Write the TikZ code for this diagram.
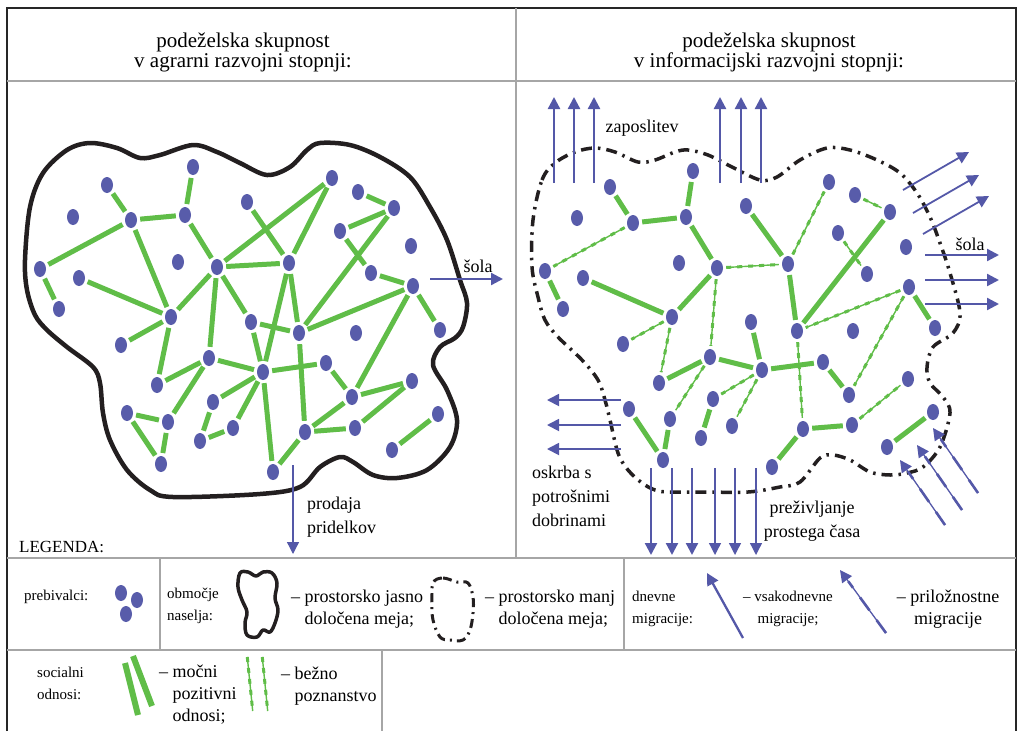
\documentclass[tikz,border=0pt]{standalone}
\usepackage{fontspec}
\setmainfont{Liberation Serif}
\usetikzlibrary{arrows.meta, shapes.geometric}

\definecolor{dotblue}{RGB}{88,92,170}
\definecolor{migblue}{RGB}{84,88,168}
\definecolor{relgreen}{RGB}{96,189,72}
\definecolor{blobblack}{RGB}{35,31,32}

\begin{document}
\begin{tikzpicture}[x=1pt, y=-1pt,
  dot/.style={ellipse, fill=dotblue, inner sep=0pt, minimum width=12pt, minimum height=16pt},
  strong/.style={relgreen, line width=5pt, shorten <=3pt, shorten >=3pt},
  casual/.style={relgreen, line width=1.4pt, shorten <=3pt, shorten >=3pt,
    postaction={draw, line width=3pt, dash pattern=on 5pt off 6pt}},
  daily/.style={migblue, line width=2.3pt, -{Triangle[length=12pt, width=12pt]}},
  occasional/.style={migblue, line width=1.3pt, -{Triangle[length=12pt, width=12pt]},
    postaction={draw, -, line width=2.6pt, shorten >=14pt, dash pattern=on 16pt off 12pt}},
  border/.style={line width=4.5pt, line join=round, blobblack},
  looseborder/.style={line width=3.5pt, blobblack, dash pattern=on 11pt off 6pt on 2.5pt off 6pt},
  frame/.style={line width=1.2pt, gray!70},
  headline/.style={align=center, font=\fontsize{21}{20}\selectfont},
  lbl/.style={align=left, inner sep=0pt, font=\fontsize{18}{24}\selectfont},
  keyword/.style={align=left, inner sep=0pt, font=\fontsize{15}{22}\selectfont},
  keytext/.style={align=left, inner sep=0pt, font=\fontsize{18}{22}\selectfont}]
\useasboundingbox (0,0) rectangle (1019,731);

% Frame
\draw[line width=1.5pt, black!85] (7,731) -- (7,8) -- (1016,8) -- (1016,731);
\draw[frame] (7,81) -- (1016,81);
\draw[frame] (516,8) -- (516,558);
\draw[frame] (7,558) -- (1016,558);
\draw[frame] (7,650) -- (1016,650);
\draw[frame] (160,558) -- (160,650);
\draw[frame] (624,558) -- (624,650);
\draw[frame] (382,650) -- (382,731);

% Headings
\node[headline] (agrtitle) at (243,52) {podeželska skupnost\\v agrarni razvojni stopnji:};
\node[headline] (infotitle) at (769,52) {podeželska skupnost\\v informacijski razvojni stopnji:};

% Agrarian settlement border
\draw[border] plot[smooth cycle, tension=0.55] coordinates {
  (30,207) (43,173) (67,150) (90,143) (117,148) (140,158) (160,155) (193,145)
  (217,152) (240,163) (267,175) (290,167) (307,150) (320,143) (350,145) (380,157)
  (410,177) (430,207) (447,240) (460,280) (467,303) (463,327) (455,338) (440,347)
  (433,365) (447,390) (457,420) (450,447) (427,470) (397,478) (373,475) (353,462)
  (340,457) (320,467) (300,487) (260,494) (173,497) (150,490) (127,470) (110,440)
  (103,413) (100,383) (93,367) (67,347) (47,330) (35,315) (27,290) (25,260)};

% Information settlement border
\draw[looseborder] plot[smooth cycle, tension=0.55] coordinates {
  (533,220) (542,180) (555,163) (575,152) (595,148) (615,152) (638,162) (655,160)
  (675,152) (688,150) (708,155) (732,167) (760,180) (777,177) (800,160) (827,148)
  (850,150) (877,160) (900,173) (917,193) (930,217) (940,243) (950,273) (960,313)
  (953,333) (933,347) (927,367) (930,383) (943,397) (950,413) (940,447) (923,467)
  (907,473) (890,475) (870,472) (850,460) (833,455) (820,458) (800,482) (780,487)
  (748,492) (702,492) (668,492) (655,490) (642,483) (628,470) (618,453) (610,420)
  (605,400) (598,380) (582,360) (558,337) (545,320) (538,297) (532,267)};

% Inhabitants, agrarian
\foreach \n/\x/\y in {L1/107/185, L2/193/167, L3/73/217, L4/131/220, L5/185/215,
  L6/247/202, L7/178/262, L8/217/267, L9/40/269, L10/79/278, L11/59/309,
  L12/171/317, L13/251/322, L14/332/178, L15/358/192, L16/394/208, L17/340/231,
  L18/411/246, L19/289/263, L20/371/273, L21/413/286, L22/299/333, L23/440/330,
  L24/356/333, L25/121/345, L26/209/358, L27/263/372, L28/326/363, L29/157/385,
  L30/213/402, L31/352/397, L32/412/381, L33/127/413, L34/168/422, L35/233/428,
  L36/200/441, L37/305/432, L38/355/428, L39/438/414, L40/161/464, L41/392/450,
  L42/273/472}
  \node[dot] (\n) at (\x,\y) {};

\foreach \a/\b in {L1/L4, L2/L5, L4/L5, L4/L9, L9/L11, L4/L12, L10/L12, L5/L8,
  L8/L12, L8/L14, L14/L19, L6/L19, L8/L19, L8/L26, L8/L13, L12/L25, L12/L29,
  L15/L16, L16/L17, L16/L22, L17/L20, L20/L21, L21/L22, L21/L23, L21/L31,
  L19/L22, L19/L27, L13/L22, L13/L27, L22/L37, L27/L28, L28/L31, L31/L32,
  L31/L37, L37/L38, L38/L32, L39/L41, L37/L42, L27/L42, L26/L27, L30/L27,
  L35/L27, L26/L29, L26/L34, L33/L34, L33/L40, L34/L40, L30/L36, L36/L35}
  \draw[strong] (\a) -- (\b);

% Inhabitants, information age
\foreach \n/\x/\y in {R1/693/171, R2/610/187, R3/577/218, R4/633/223, R5/686/217,
  R6/746/206, R7/679/263, R8/717/268, R9/545/271, R10/583/278, R11/563/309,
  R12/829/182, R13/855/195, R14/890/212, R15/838/233, R16/906/247, R17/788/264,
  R18/867/274, R19/909/287, R20/797/331, R21/853/331, R22/935/328, R23/672/317,
  R24/751/322, R25/623/344, R26/710/357, R27/762/370, R28/659/383, R29/713/399,
  R30/629/409, R31/670/419, R32/732/426, R33/701/438, R34/663/460, R35/772/467,
  R36/823/362, R37/849/395, R38/908/379, R39/803/429, R40/852/425, R41/933/412,
  R42/887/447}
  \node[dot] (\n) at (\x,\y) {};

\foreach \a/\b in {R1/R5, R2/R4, R4/R5, R9/R11, R10/R23, R5/R8, R8/R23, R6/R17,
  R14/R20, R17/R20, R19/R22, R28/R26, R26/R27, R24/R27, R29/R33, R30/R34,
  R31/R34, R27/R36, R36/R37, R39/R40, R39/R35, R42/R41}
  \draw[strong] (\a) -- (\b);

\foreach \a/\b in {R4/R9, R8/R17, R8/R26, R17/R12, R13/R14, R15/R18, R19/R20,
  R19/R37, R20/R39, R23/R25, R23/R28, R26/R31, R27/R29, R27/R32, R40/R38}
  \draw[casual] (\a) -- (\b);

% Migrations, agrarian
\coordinate (schoolA) at (430,279);
\coordinate (schoolB) at (503,279);
\draw[daily] (schoolA) -- (schoolB);
\node[lbl] (schooltxt) at (478,266) {šola};
\coordinate (sellA) at (293,465);
\coordinate (sellB) at (293,554);
\draw[occasional] (sellA) -- (sellB);
\node[lbl, anchor=west] (selltxt) at (307,517) {prodaja\\pridelkov};

% Migrations, information age
\foreach \x [count=\i] in {554,574,594,720,741,761} {
  \coordinate (jobA\i) at (\x,183);
  \coordinate (jobB\i) at (\x,97);
  \draw[daily] (jobA\i) -- (jobB\i);
}
\node[lbl] (jobtxt) at (642,128) {zaposlitev};

\foreach \x/\y [count=\i] in {903/190, 913/213, 923/234} {
  \coordinate (eduA\i) at (\x,\y);
  \coordinate (eduB\i) at (\x+66,\y-38);
  \draw[daily, line width=1.8pt] (eduA\i) -- (eduB\i);
}
\foreach \y [count=\i] in {255,280,304} {
  \coordinate (schA\i) at (925,\y);
  \coordinate (schB\i) at (999,\y);
  \draw[daily] (schA\i) -- (schB\i);
}
\node[lbl] (schtxt) at (970,244) {šola};

\foreach \y [count=\i] in {400,425,449} {
  \coordinate (shopA\i) at (621,\y);
  \coordinate (shopB\i) at (547,\y);
  \draw[daily, line width=1.8pt] (shopA\i) -- (shopB\i);
}
\node[lbl, anchor=west] (shoptxt) at (532,496) {oskrba s\\potrošnimi\\dobrinami};

\foreach \x [count=\i] in {651,672,692} {
  \coordinate (leisA\i) at (\x,468);
  \coordinate (leisB\i) at (\x,555);
  \draw[daily] (leisA\i) -- (leisB\i);
}
\foreach \x [count=\i] in {715,735,756} {
  \coordinate (freeA\i) at (\x,468);
  \coordinate (freeB\i) at (\x,555);
  \draw[occasional] (freeA\i) -- (freeB\i);
}
\node[lbl, align=center] (leistxt) at (812,521) {preživljanje\\prostega časa};

\foreach \x/\y [count=\i] in {978/493, 962/510, 945/525} {
  \coordinate (inA\i) at (\x,\y);
  \coordinate (inB\i) at (\x-45,\y-65);
  \draw[occasional] (inA\i) -- (inB\i);
}

% Legend
\node[lbl, anchor=west, font=\fontsize{17}{20}\selectfont] (legtitle) at (19,547) {LEGENDA:};

\node[keyword, anchor=west] (inhab) at (24,597) {prebivalci:};
\node[dot] (keydotA) at (121,593) {};
\node[dot] (keydotB) at (137,600) {};
\node[dot] (keydotC) at (126,614) {};

\node[keyword, anchor=west] (area) at (167,606) {območje\\naselja:};
\draw[border, line width=3.5pt] plot[smooth cycle, tension=0.6] coordinates {
  (240,573) (248,572) (256,576) (263,572) (272,573) (277,583) (275,598) (278,610)
  (275,623) (270,632) (263,630) (257,637) (247,635) (245,623) (247,612) (242,600)
  (238,587)};
\node[keytext, anchor=west] (clearline) at (291,609) {– prostorsko jasno\\\hphantom{– }določena meja;};
\draw[looseborder, line width=3pt, dash pattern=on 9pt off 5pt on 2pt off 5pt]
  plot[smooth cycle, tension=0.6] coordinates {
  (433,583) (443,578) (457,582) (468,583) (473,597) (473,613) (470,630) (463,640)
  (450,640) (440,637) (433,620) (432,603)};
\node[keytext, anchor=west] (vagueline) at (485,609) {– prostorsko manj\\\hphantom{– }določena meja;};

\node[keyword, anchor=west] (daymig) at (632,609) {dnevne\\migracije:};
\coordinate (dailyA) at (743,638);
\coordinate (dailyB) at (707,573);
\draw[daily] (dailyA) -- (dailyB);
\node[keyword, align=center] (dailytxt) at (788,609) {– vsakodnevne\\migracije;};
\coordinate (occA) at (886,633);
\coordinate (occB) at (840,570);
\draw[occasional] (occA) -- (occB);
\node[keytext, align=center] (occtxt) at (948,609) {– priložnostne\\migracije};

\node[keyword, anchor=west] (social) at (37,683) {socialni\\odnosi:};
\draw[relgreen, line width=6pt] (125,663) -- (138,715);
\draw[relgreen, line width=6pt] (133,656) -- (152,706);
\node[keytext, anchor=west] (strongtxt) at (159,695) {– močni\\\hphantom{– }pozitivni\\\hphantom{– }odnosi;};
\draw[casual] (247,654) -- (253,714);
\draw[casual] (262,654) -- (268,714);
\node[keytext, anchor=west] (casualtxt) at (281,686) {– bežno\\\hphantom{– }poznanstvo};
\end{tikzpicture}
\end{document}
